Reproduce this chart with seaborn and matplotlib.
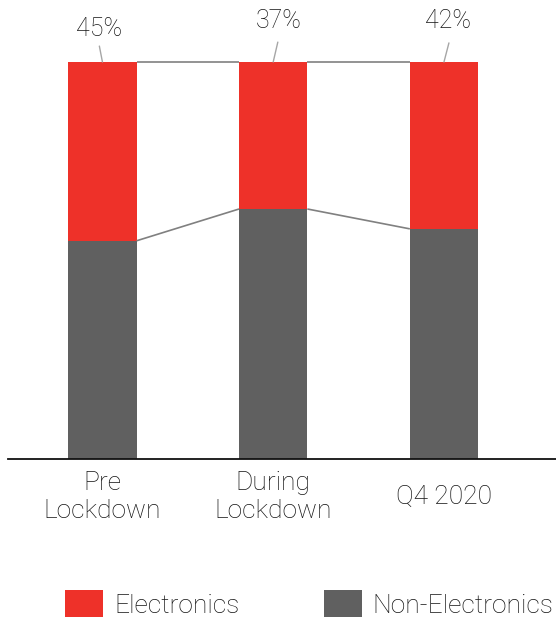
import matplotlib
matplotlib.use("Agg")
import matplotlib.pyplot as plt
from matplotlib.patches import Patch
import seaborn as sns
import pandas as pd

# Share of sales by period
periods = ["Pre\nLockdown", "During\nLockdown", "Q4 2020"]
electronics = [45, 37, 42]
non_electronics = [100 - v for v in electronics]
pct_labels = ["45%", "37%", "42%"]

RED = "#EE3129"
GRAY = "#606060"
LINK = "#808080"
LEADER = "#A6A6A6"
INK = "#141414"

sns.set_theme(style="white")
plt.rcParams["font.family"] = ["Roboto", "DejaVu Sans"]
plt.rcParams["font.weight"] = "light"

df = pd.DataFrame({
    "period": periods,
    "total": [e + n for e, n in zip(electronics, non_electronics)],
    "non": non_electronics,
})

fig = plt.figure(figsize=(5.56, 6.21), dpi=100)
ax = fig.add_axes([8 / 556, 1 - 459.3 / 621, 548 / 556, 459.3 / 621])

bar_w = 0.40
sns.barplot(data=df, x="period", y="total", color=RED, saturation=1,
            width=bar_w, ax=ax, linewidth=0)
sns.barplot(data=df, x="period", y="non", color=GRAY, saturation=1,
            width=bar_w, ax=ax, linewidth=0)

# connector lines between neighbouring bars
half = bar_w / 2
for i in range(len(periods) - 1):
    ax.plot([i + half, i + 1 - half], [100, 100], color=LINK, lw=1.2,
            solid_capstyle="butt", zorder=3)
    ax.plot([i + half, i + 1 - half], [non_electronics[i], non_electronics[i + 1]],
            color=LINK, lw=1.2, solid_capstyle="butt", zorder=3)

# percentage callouts with short leader lines
label_dx = [-0.018, 0.032, 0.023]
label_y = [106.5, 108.5, 108.5]
leader_top = [104.0, 105.0, 104.8]
leader_dx = [-0.018, 0.027, 0.029]
for i, txt in enumerate(pct_labels):
    ax.plot([i, i + leader_dx[i]], [100, leader_top[i]], color=LEADER, lw=1.0,
            zorder=3)
    ax.text(i + label_dx[i], label_y[i], txt, ha="center", va="baseline",
            fontsize=18, color=INK, fontweight="light")

ax.set_xlim(-0.553, 2.656)
ax.set_ylim(0, 115.6)
ax.set_xlabel("")
ax.set_ylabel("")
ax.set_yticks([])
for side in ["top", "right", "left"]:
    ax.spines[side].set_visible(False)
ax.spines["bottom"].set_color("#111111")
ax.spines["bottom"].set_linewidth(1.3)
ax.spines["bottom"].set_zorder(4)
ax.tick_params(axis="x", length=0, pad=27.4, labelsize=19, labelcolor=INK)
for lab in ax.get_xticklabels():
    lab.set_va("center")
    lab.set_ha("center")
    lab.set_fontweight("light")
    lab.set_multialignment("center")

handles = [Patch(facecolor=RED, edgecolor="none", label="Electronics"),
           Patch(facecolor=GRAY, edgecolor="none", label="Non-Electronics")]
leg = fig.legend(handles=handles, loc="center left",
                 bbox_to_anchor=(65 / 556, 1 - 604 / 621), ncol=2,
                 frameon=False, fontsize=19, handlelength=1.44,
                 handleheight=1.21, handletextpad=0.42, columnspacing=3.2,
                 borderpad=0, borderaxespad=0)
for t in leg.get_texts():
    t.set_color(INK)
    t.set_fontweight("light")

fig.savefig("out.png", dpi=100)
